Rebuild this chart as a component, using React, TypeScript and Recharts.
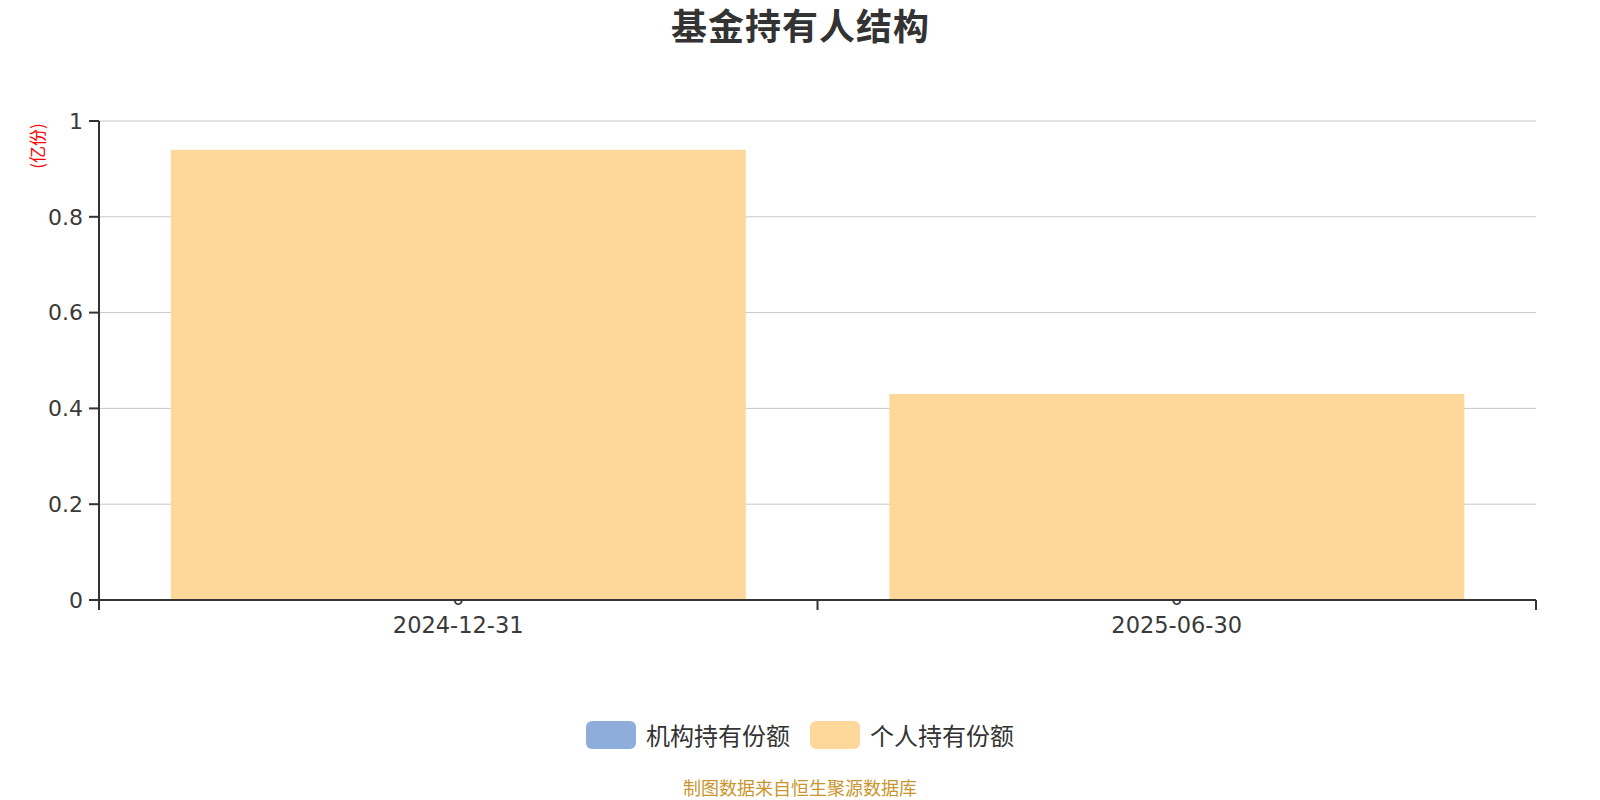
import React from 'react';
import { BarChart, Bar, XAxis, YAxis, CartesianGrid } from 'recharts';

const categories = ['2024-12-31', '2025-06-30'];
const institutional = [0, 0];
const personal = [0.94, 0.43];
const yTicks = [0, 0.2, 0.4, 0.6, 0.8, 1];
const seriesNames = ['机构持有份额', '个人持有份额'];
const seriesColors = ['#8eaddb', '#fed89b'];

const data = categories.map((c, i) => ({ date: c, inst: institutional[i], pers: personal[i] }));

const W = 1600;
const H = 800;
const M = { top: 121, right: 64, left: 0, bottom: 140 };
const Y_W = 99;
const TICK_SIZE = 10;
const TICK_MARGIN = 7;
const AXIS_COLOR = '#333';
const TICK_FONT = '"DejaVu Sans", sans-serif';
const CJK_FONT = '"Noto Sans CJK SC", "Noto Sans", sans-serif';

const XTick = (props: any) => {
  const { x, y, payload, index } = props;
  const fallback = (W - Y_W - M.right) / categories.length / 2;
  const off = payload && typeof payload.offset === 'number' && payload.offset > 0 ? payload.offset : fallback;
  const axisY = y - TICK_SIZE - TICK_MARGIN;
  const lines = [x - off];
  if (index === categories.length - 1) lines.push(x + off);
  return (
    <g>
      {lines.map((lx, i) => (
        <line key={i} x1={lx} x2={lx} y1={axisY} y2={axisY + TICK_SIZE} stroke={AXIS_COLOR} strokeWidth={2} />
      ))}
      <text x={x} y={y} dy="0.71em" textAnchor="middle" fontSize={22.5} fontFamily={TICK_FONT} fill="#3a3a3a">
        {payload.value}
      </text>
    </g>
  );
};

const ZeroLabelShape = (props: any) => {
  const { x, y, width, index } = props;
  const v = institutional[index];
  return (
    <text x={x + width / 2} y={y + 5} textAnchor="middle" fontSize={18} fontFamily={TICK_FONT} fill="#333">
      {String(v)}
    </text>
  );
};

export default function App() {
  return (
    <div style={{ position: 'absolute', left: 0, top: 0, width: W, height: H, background: '#fff' }}>
      <div
        style={{
          position: 'absolute',
          left: 0,
          top: 3,
          width: W,
          height: 42,
          lineHeight: '42px',
          textAlign: 'center',
          fontFamily: CJK_FONT,
          fontWeight: 700,
          fontSize: 36,
          letterSpacing: 1,
          paddingLeft: 1,
          boxSizing: 'border-box',
          color: '#333',
        }}
      >
        基金持有人结构
      </div>
      <div
        style={{
          position: 'absolute',
          left: 37,
          top: 146,
          transform: 'translate(-50%, -50%) rotate(-90deg)',
          fontFamily: CJK_FONT,
          fontSize: 17,
          color: '#ff0000',
          whiteSpace: 'nowrap',
          lineHeight: '18px',
        }}
      >
        (亿份)
      </div>
      <BarChart width={W} height={H} data={data} margin={M} barCategoryGap="10%">
        <CartesianGrid vertical={false} stroke="#c8c8c8" strokeWidth={1} />
        <XAxis
          dataKey="date"
          height={60}
          axisLine={{ stroke: AXIS_COLOR, strokeWidth: 2 }}
          tickLine={false}
          tickSize={TICK_SIZE}
          tickMargin={TICK_MARGIN}
          tick={<XTick />}
          interval={0}
        />
        <YAxis
          width={Y_W}
          domain={[0, 1]}
          ticks={yTicks}
          interval={0}
          tickSize={TICK_SIZE}
          tickMargin={6}
          axisLine={{ stroke: AXIS_COLOR, strokeWidth: 2 }}
          tickLine={{ stroke: AXIS_COLOR, strokeWidth: 2 }}
          tick={{ fontSize: 22, fontFamily: TICK_FONT, fill: '#3a3a3a' }}
          tickFormatter={(v: number) => String(v)}
        />
        <Bar dataKey="inst" stackId="a" fill={seriesColors[0]} isAnimationActive={false} shape={<ZeroLabelShape />} />
        <Bar dataKey="pers" stackId="a" fill={seriesColors[1]} isAnimationActive={false} />
      </BarChart>
      <div
        style={{
          position: 'absolute',
          left: 0,
          top: 721,
          width: W,
          height: 28,
          display: 'flex',
          justifyContent: 'center',
          alignItems: 'center',
          fontFamily: CJK_FONT,
          fontSize: 24,
          color: '#333',
        }}
      >
        {seriesNames.map((n, i) => (
          <div key={n} style={{ display: 'flex', alignItems: 'center', marginLeft: i === 0 ? 0 : 20 }}>
            <div style={{ width: 50, height: 28, borderRadius: 6, background: seriesColors[i], marginRight: 10 }} />
            <span style={{ lineHeight: '28px' }}>{n}</span>
          </div>
        ))}
      </div>
      <div
        style={{
          position: 'absolute',
          left: 0,
          top: 776,
          width: W,
          textAlign: 'center',
          fontFamily: CJK_FONT,
          fontSize: 18,
          lineHeight: '22px',
          color: '#c9952e',
        }}
      >
        制图数据来自恒生聚源数据库
      </div>
    </div>
  );
}
